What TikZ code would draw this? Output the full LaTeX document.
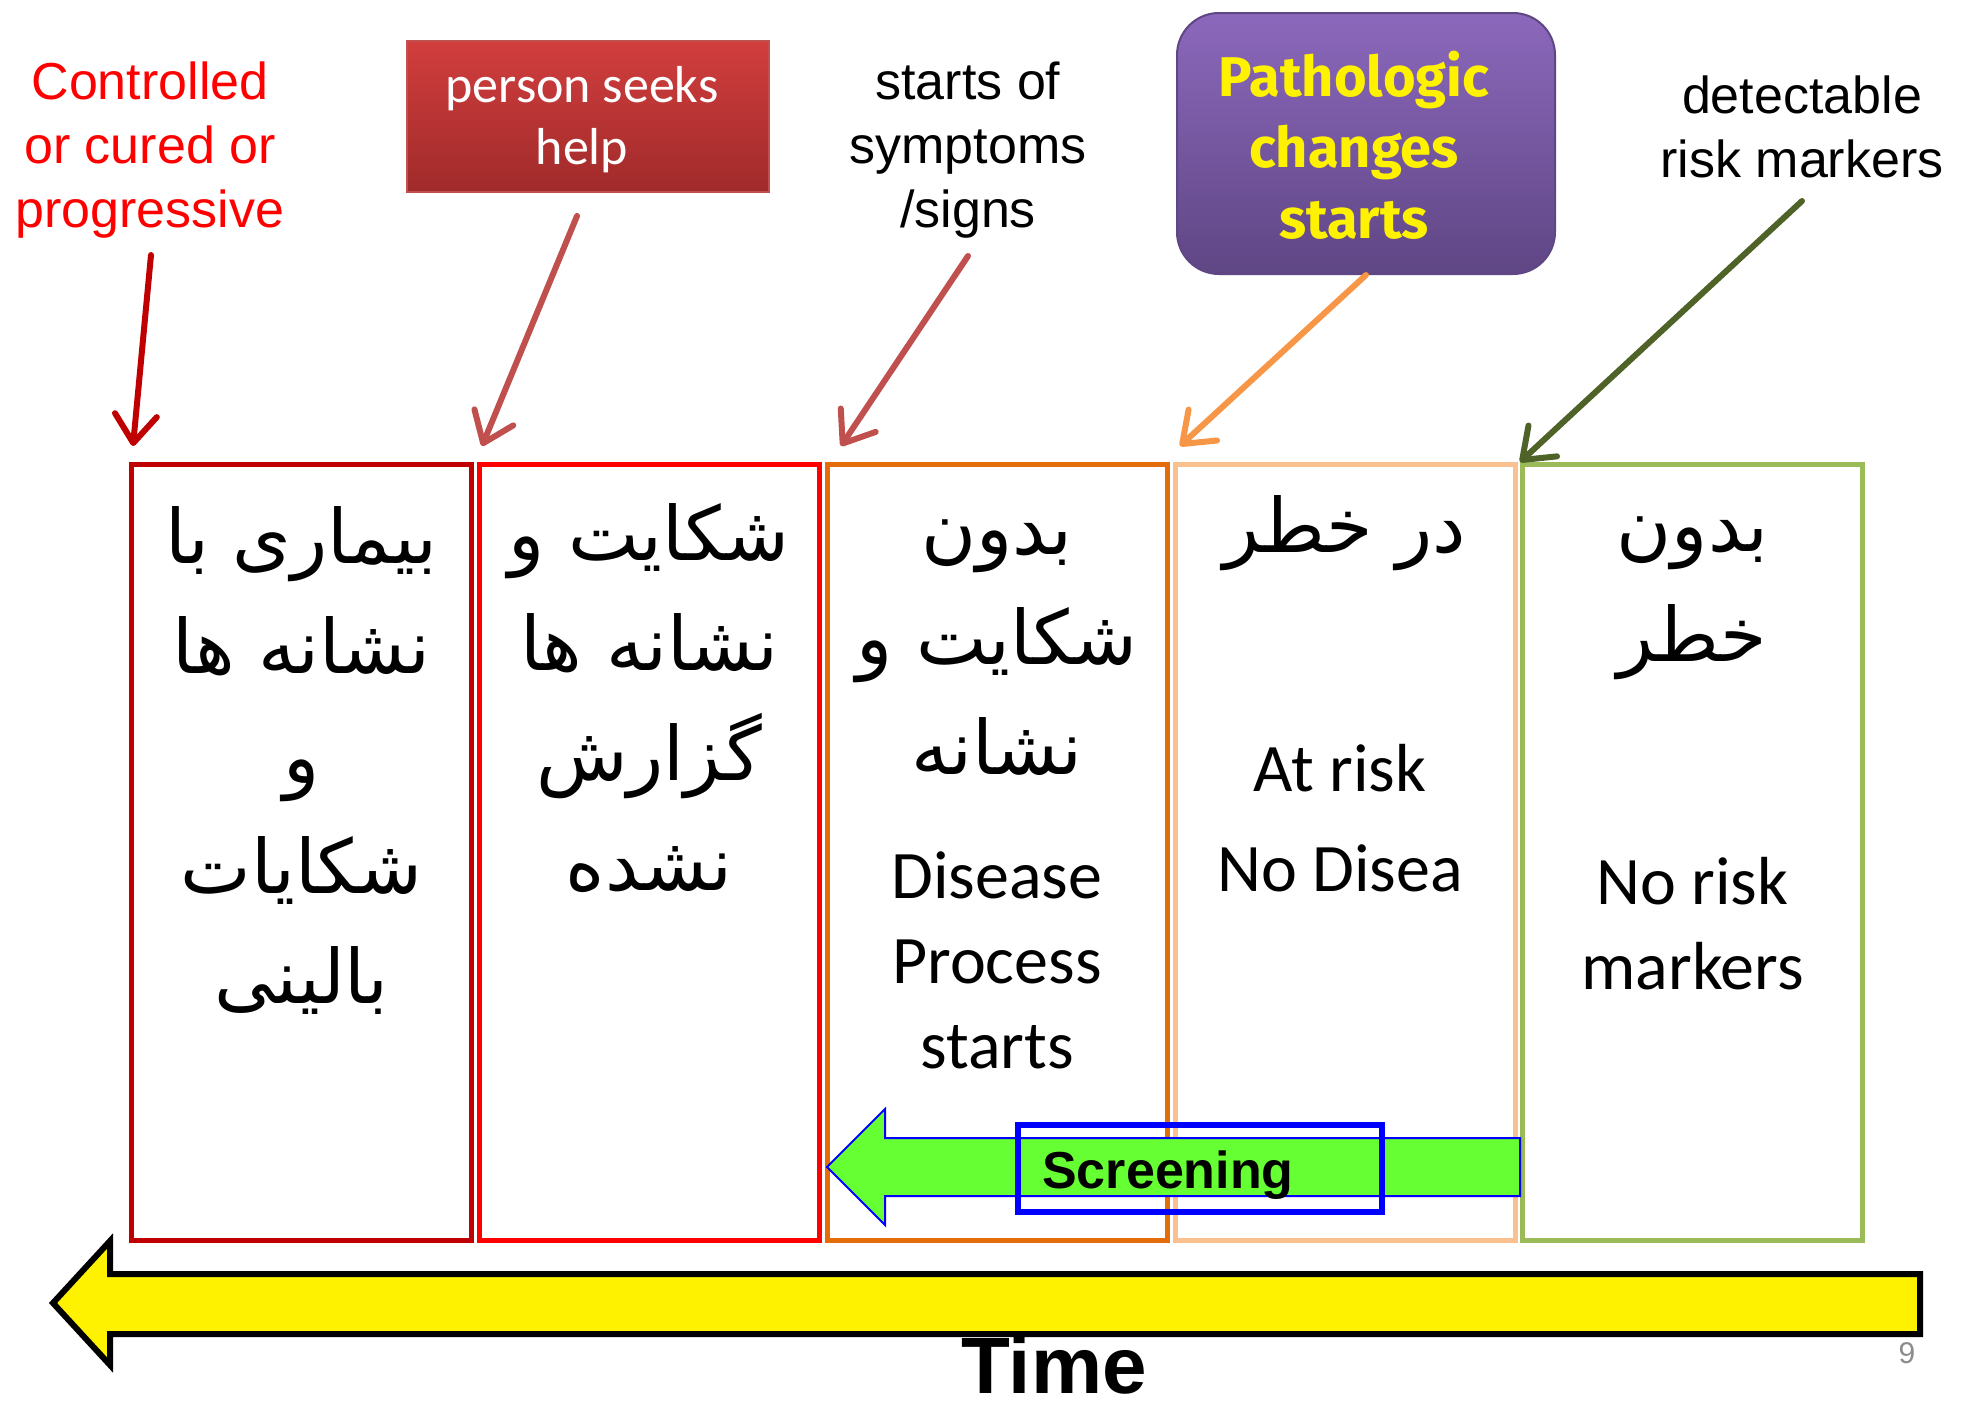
\documentclass[tikz,border=0pt]{standalone}
\usepackage{fontspec}
\setmainfont{Liberation Sans}
\newfontfamily\arabicfont[Script=Arabic]{DejaVu Sans}
\newfontfamily\calibri{Carlito}
\newfontfamily\comicfont{Fira Sans}
\TeXXeTstate=1
\usetikzlibrary{arrows.meta}
\newcommand\fa[1]{{\arabicfont\beginR #1\endR}}
\definecolor{cA}{HTML}{C00000}
\definecolor{cB}{HTML}{FF0000}
\definecolor{cC}{HTML}{E46C0A}
\definecolor{cD}{HTML}{FAC090}
\definecolor{cE}{HTML}{9BBB59}
\definecolor{arB}{HTML}{C0504D}
\definecolor{arD}{HTML}{F79646}
\definecolor{arE}{HTML}{4F6228}
\definecolor{scrgreen}{HTML}{66FF33}
\definecolor{purpTop}{HTML}{8C68BC}
\definecolor{purpBot}{HTML}{5F4684}
\definecolor{redTop}{HTML}{D23E3E}
\definecolor{redBot}{HTML}{A02A2A}
\definecolor{pnum}{HTML}{8C8C8C}
\begin{document}
\begin{tikzpicture}[x=1pt,y=-1pt,
  stagebox/.style={draw, line width=5pt, minimum width=340pt, minimum height=776pt, inner sep=0pt},
  ptxt/.style={align=center, font=\arabicfont\fontsize{75}{110}\selectfont},
  etxt/.style={align=center, font=\calibri\fontsize{68}{85}\selectfont},
  toplbl/.style={align=center, font=\fontsize{52}{64}\selectfont, inner sep=0pt},
  pointer/.style={line width=6pt, line cap=round, -{Straight Barb[length=28pt,width=42pt,line cap=round,line join=round]}}
]
\path[use as bounding box, fill=white] (0,0) rectangle (1968,1408);

% stage boxes
\node[stagebox, draw=cA] (b1) at (301.5,852) {};
\node[stagebox, draw=cB] (b2) at (649,852) {};
\node[stagebox, draw=cC] (b3) at (997,852) {};
\node[stagebox, draw=cD] (b4) at (1345,852) {};
\node[stagebox, draw=cE] (b5) at (1692.5,852) {};

% Persian texts
\node[ptxt] (t1) at (301.5,760) {\fa{بیماری با}\\\fa{نشانه ها}\\\fa{و}\\\fa{شکایات}\\\fa{بالینی}};
\node[ptxt] (t2) at (649,698) {\fa{شکایت و}\\\fa{نشانه ها}\\\fa{گزارش}\\\fa{نشده}};
\node[ptxt] (t3) at (997,648) {\fa{بدون}\\\fa{شکایت و}\\\fa{نشانه}};
\node[ptxt] (t4) at (1345,533) {\fa{در خطر}};
\node[ptxt] (t5) at (1692.5,598) {\fa{بدون}\\\fa{خطر}};

% English texts in boxes
\node[etxt] (e3) at (997,960) {Disease\\Process\\starts};
\node[etxt, font=\calibri\fontsize{68}{100}\selectfont] (e4) at (1340,818) {At risk\\No Disea};
\node[etxt] (e5) at (1692.5,924) {No risk\\markers};

% screening arrow
\draw[blue, line width=2pt, fill=scrgreen] (827,1167) -- (885,1109) -- (885,1138) -- (1520,1138) -- (1520,1196) -- (885,1196) -- (885,1225) -- cycle;
\node[draw=blue, line width=6pt, minimum width=364pt, minimum height=87pt, inner sep=0pt] (scrbox) at (1200,1168.5) {};
\node[font=\bfseries\fontsize{52}{60}\selectfont] (scr) at (1168,1175) {Screening};

% time arrow
\draw[black, line width=6pt, line join=miter, fill=yellow] (53,1303) -- (110,1241) -- (110,1274) -- (1920,1274) -- (1920,1334) -- (110,1334) -- (110,1365) -- cycle;
\node[font=\bfseries\fontsize{80}{88}\selectfont, anchor=base, inner sep=0pt] (time) at (1054,1393) {Time};
\node[font=\fontsize{30}{34}\selectfont, text=pnum, anchor=base, inner sep=0pt] (pg) at (1907,1363) {9};

% top labels
\node[toplbl, text=red] (ctrl) at (150,150) {Controlled\\or cured or\\progressive};
\node[draw=arB, line width=2pt, top color=redTop, bottom color=redBot, minimum width=362pt, minimum height=151pt, inner sep=0pt] (seek) at (588,116.5) {};
\node[toplbl, text=white, font=\calibri\fontsize{52}{62}\selectfont] (seektxt) at (582,120) {person seeks\\help};
\node[toplbl] (symp) at (968,150) {starts of\\symptoms\\/signs};
\node[draw=purpBot, line width=2pt, rounded corners=42pt, top color=purpTop, bottom color=purpBot, minimum width=378pt, minimum height=261pt, inner sep=0pt] (patho) at (1366,143.5) {};
\node[toplbl, text=yellow, font=\comicfont\bfseries\fontsize{56}{71}\selectfont] (pathotxt) at (1354,145) {Pathologic\\changes\\starts};
\node[toplbl] (detect) at (1802,127) {detectable\\risk markers};

% connector ends
\coordinate (s1) at (151,255);   \coordinate (d1) at (133,446);
\coordinate (s2) at (577,216);   \coordinate (d2) at (482,446);
\coordinate (s3) at (968,256);   \coordinate (d3) at (841,446);
\coordinate (s4) at (1366,275);  \coordinate (d4) at (1180,446);
\coordinate (s5) at (1802,201);  \coordinate (d5) at (1520,462);
\draw[pointer, draw=cA] (s1) -- (d1);
\draw[pointer, draw=arB] (s2) -- (d2);
\draw[pointer, draw=arB] (s3) -- (d3);
\draw[pointer, draw=arD] (s4) -- (d4);
\draw[pointer, draw=arE] (s5) -- (d5);
\end{tikzpicture}
\end{document}
